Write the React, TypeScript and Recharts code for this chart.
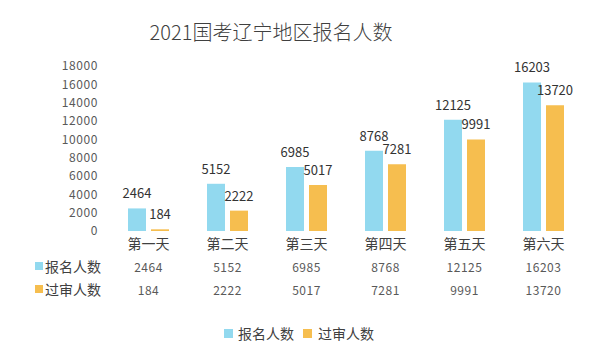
import React from 'react';
import { BarChart, Bar, XAxis, YAxis, LabelList, Customized } from 'recharts';

const categories = ['第一天', '第二天', '第三天', '第四天', '第五天', '第六天'];
const registered = [2464, 5152, 6985, 8768, 12125, 16203];
const approved = [184, 2222, 5017, 7281, 9991, 13720];
const yTicks = [0, 2000, 4000, 6000, 8000, 10000, 12000, 14000, 16000, 18000];
const seriesNames = ['报名人数', '过审人数'];

const BLUE = '#92d9ef';
const ORANGE = '#f6be4f';
const FONT = '"Noto Sans CJK SC", "Noto Sans", sans-serif';

const data = categories.map((c, i) => ({ name: c, reg: registered[i], app: approved[i] }));

const XTick = (props: any) => {
  const { x, y, payload, index } = props;
  return (
    <g fontFamily={FONT}>
      <text x={x} y={y + 12} textAnchor="middle" dominantBaseline="central" fontSize={14} fill="#404040">
        {payload.value}
      </text>
      <text x={x} y={y + 35} textAnchor="middle" dominantBaseline="central" fontSize={12} fill="#595959" letterSpacing={0.5}>
        {registered[index]}
      </text>
      <text x={x} y={y + 58} textAnchor="middle" dominantBaseline="central" fontSize={12} fill="#595959" letterSpacing={0.5}>
        {approved[index]}
      </text>
    </g>
  );
};

const Extras = () => (
  <g fontFamily={FONT}>
    <text x={271} y={31} textAnchor="middle" dominantBaseline="central" fontSize={20} fontWeight={300} fill="#404040">
      2021国考辽宁地区报名人数
    </text>
    <rect x={35} y={262} width={8} height={8} fill={BLUE} />
    <text x={45} y={266} dominantBaseline="central" fontSize={14} fill="#404040">{seriesNames[0]}</text>
    <rect x={35} y={285} width={8} height={8} fill={ORANGE} />
    <text x={45} y={289} dominantBaseline="central" fontSize={14} fill="#404040">{seriesNames[1]}</text>
    <rect x={224} y={329} width={9} height={9} fill={BLUE} />
    <text x={238} y={333} dominantBaseline="central" fontSize={14} fill="#404040">{seriesNames[0]}</text>
    <rect x={303} y={329} width={9} height={9} fill={ORANGE} />
    <text x={318} y={333} dominantBaseline="central" fontSize={14} fill="#404040">{seriesNames[1]}</text>
  </g>
);

export default function App() {
  return (
    <div style={{ position: 'absolute', left: 0, top: 0, width: 602, height: 358, background: '#fff' }}>
      <BarChart
        width={602}
        height={358}
        data={data}
        margin={{ top: 66, right: 19, bottom: 47, left: 49 }}
        barSize={18}
        barGap={5}
      >
        <XAxis
          dataKey="name"
          axisLine={false}
          tickLine={false}
          tickSize={0}
          tickMargin={0}
          height={80}
          interval={0}
          tick={<XTick />}
        />
        <YAxis
          domain={[0, 18000]}
          ticks={yTicks}
          axisLine={false}
          tickLine={false}
          tickSize={0}
          tickMargin={11}
          width={60}
          interval={0}
          tick={{ fontSize: 12, fill: '#595959', fontFamily: FONT, letterSpacing: 0.6 }}
        />
        <Bar dataKey="reg" fill={BLUE} isAnimationActive={false}>
          <LabelList dataKey="reg" position="top" offset={10} fontSize={13} fill="#333" fontFamily={FONT} />
        </Bar>
        <Bar dataKey="app" fill={ORANGE} isAnimationActive={false}>
          <LabelList dataKey="app" position="top" offset={10} fontSize={13} fill="#333" fontFamily={FONT} />
        </Bar>
        <Customized component={<Extras />} />
      </BarChart>
    </div>
  );
}
